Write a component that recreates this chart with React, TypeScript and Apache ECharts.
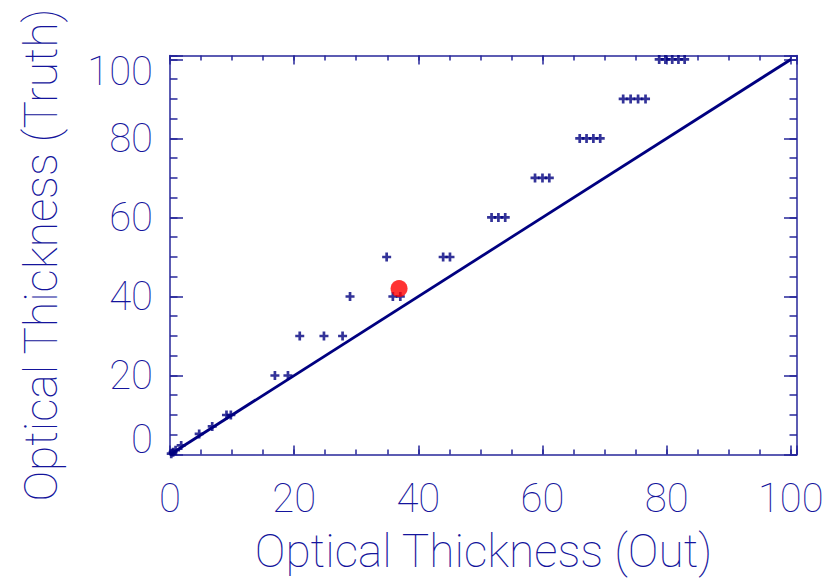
import React, { useEffect, useRef } from 'react';
import * as echarts from 'echarts';

// Scatter points: Optical Thickness (Out) vs Optical Thickness (Truth)
const outValues = [0.2, 0.5, 0.9, 1.8, 4.7, 6.8, 9.1, 9.8, 16.9, 19.0, 20.9, 24.8, 27.8, 29.0, 35.9, 37.1, 34.9, 44.0, 45.1, 51.8, 52.9, 54.0, 58.8, 60.0, 61.1, 66.0, 67.1, 68.2, 69.3, 73.0, 74.2, 75.4, 76.6, 78.8, 79.8, 80.9, 81.9, 82.9];
const truthValues = [0.2, 0.6, 1.1, 2.3, 5.2, 7.1, 10, 10, 20, 20, 30, 30, 30, 40, 40, 40, 50, 50, 50, 60, 60, 60, 70, 70, 70, 80, 80, 80, 80, 90, 90, 90, 90, 100, 100, 100, 100, 100];
// Highlighted point
const highlightOut = [36.9];
const highlightTruth = [42.0];
// 1:1 reference line
const refLineX = [0, 100];
const refLineY = [0, 100];
// Axis ranges
const axisMin = 0;
const axisMax = 101;
const majorStep = 20;
const minorStep = 5;

const NAVY = '#000080';
const TEXT = '#14149c';
const AXIS = '#26269a';
const FONT = 'Roboto';
const FW = 100;

export default function App() {
  const ref = useRef<HTMLDivElement>(null);
  useEffect(() => {
    if (!ref.current) return;
    const chart = echarts.init(ref.current, undefined, { renderer: 'svg' });
    const labelStyle = { fontFamily: FONT, fontWeight: FW, fontSize: 40, color: TEXT };
    const titleStyle = { fontFamily: FONT, fontWeight: FW, fontSize: 46, color: TEXT };
    const hidden = { show: false };
    const mkX = (pos: 'bottom' | 'top', major: boolean, withLabels: boolean, withLine: boolean): any => ({
      type: 'value',
      position: pos,
      min: axisMin,
      max: axisMax,
      interval: major ? majorStep : minorStep,
      splitLine: hidden,
      axisLine: { show: withLine, onZero: false, lineStyle: { color: AXIS, width: 1.5 } },
      axisTick: { show: true, inside: true, length: major ? 9 : 5, lineStyle: { color: AXIS, width: 1.5 } },
      axisLabel: withLabels
        ? { ...labelStyle, margin: 24, formatter: (v: number) => (v > 100 ? '' : String(v)) }
        : { show: false },
      ...(withLabels
        ? {
            name: 'Optical Thickness (Out)',
            nameLocation: 'middle',
            nameGap: 73,
            nameTextStyle: titleStyle,
          }
        : {}),
    });
    const mkY = (pos: 'left' | 'right', major: boolean, withLabels: boolean, withLine: boolean): any => ({
      type: 'value',
      position: pos,
      min: axisMin,
      max: axisMax,
      interval: major ? majorStep : minorStep,
      splitLine: hidden,
      axisLine: { show: withLine, onZero: false, lineStyle: { color: AXIS, width: 1.5 } },
      axisTick: { show: true, inside: true, length: major ? 13 : 7.5, lineStyle: { color: AXIS, width: 1.5 } },
      axisLabel: withLabels
        ? {
            ...labelStyle,
            margin: 17,
            formatter: (v: number) => {
              if (v > 100) return '';
              if (v === 0) return '{b|0}';
              if (v === 100) return '{t|100}';
              return String(v);
            },
            rich: {
              b: { ...labelStyle, padding: [0, 0, 30, 0] },
              t: { ...labelStyle, padding: [24, 0, 0, 0] },
            },
          }
        : { show: false },
      ...(withLabels
        ? {
            name: 'Optical Thickness (Truth)',
            nameLocation: 'middle',
            nameGap: 106,
            nameTextStyle: titleStyle,
          }
        : {}),
    });

    const scatterData = outValues.map((x, i) => [x, truthValues[i]]);
    const highlightData = highlightOut.map((x, i) => [x, highlightTruth[i]]);
    const lineData = refLineX.map((x, i) => [x, refLineY[i]]);

    chart.setOption({
      animation: false,
      backgroundColor: '#ffffff',
      grid: { left: 170, right: 35, top: 55.5, bottom: 127.5, containLabel: false, outerBoundsMode: 'none' },
      xAxis: [
        mkX('bottom', true, true, true),
        mkX('bottom', false, false, false),
        mkX('top', true, false, true),
        mkX('top', false, false, false),
      ],
      yAxis: [
        mkY('left', true, true, true),
        mkY('left', false, false, false),
        mkY('right', true, false, true),
        mkY('right', false, false, false),
      ],
      series: [
        {
          type: 'line',
          data: lineData,
          showSymbol: false,
          symbol: 'none',
          lineStyle: { color: NAVY, width: 2.8 },
          z: 2,
        },
        {
          type: 'scatter',
          data: scatterData,
          symbol: 'path://M3.5,0 H6.5 V3.5 H10 V6.5 H6.5 V10 H3.5 V6.5 H0 V3.5 H3.5 Z',
          symbolSize: 9,
          itemStyle: { color: NAVY },
          z: 3,
        },
        {
          type: 'scatter',
          data: highlightData,
          symbol: 'circle',
          symbolSize: 17,
          itemStyle: { color: '#ff0000' },
          z: 4,
        },
      ],
    });
    return () => chart.dispose();
  }, []);
  return (
    <div
      ref={ref}
      style={{ position: 'absolute', left: 0, top: 0, width: 832, height: 582, background: '#fff' }}
    />
  );
}
